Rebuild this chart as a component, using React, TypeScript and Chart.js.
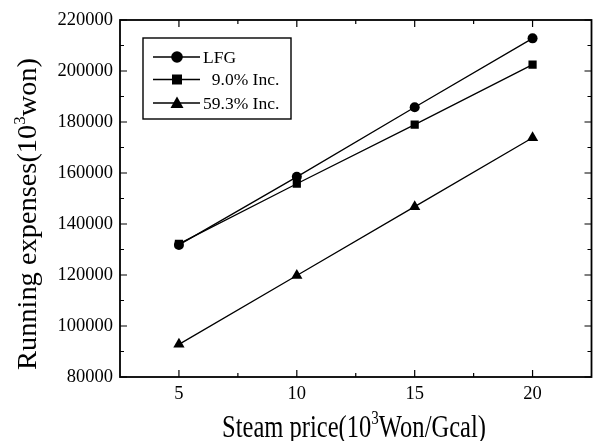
import React, { useEffect, useRef } from "react";
import { Chart, registerables } from "chart.js";

Chart.register(...registerables);

const steamPrice = [5, 10, 15, 20];
const lfg = [131800, 158500, 185800, 212800];
const inc9 = [132200, 155800, 179000, 202500];
const inc59 = [92800, 119800, 146800, 173800];

const seriesLabels = ["LFG", "  9.0% Inc.", "59.3% Inc."];
const xTickValues = [5, 10, 15, 20];
const xMinorValues = [7.5, 12.5, 17.5];
const yTickValues = [80000, 100000, 120000, 140000, 160000, 180000, 200000, 220000];
const yMinorValues = [90000, 110000, 130000, 150000, 170000, 190000, 210000];

const xTitleParts = ["Steam price(10", "3", "Won/Gcal)"];
const yTitleParts = ["Running expenses(10", "3", "won)"];

const FONT = "'Liberation Serif', 'Times New Roman', serif";

function drawSupTitle(
  ctx: CanvasRenderingContext2D,
  parts: string[],
  size: number,
  targetWidth: number
) {
  const main = `${size}px ${FONT}`;
  const sup = `${Math.round(size * 0.6)}px ${FONT}`;
  ctx.font = main;
  const w0 = ctx.measureText(parts[0]).width;
  const w2 = ctx.measureText(parts[2]).width;
  ctx.font = sup;
  const w1 = ctx.measureText(parts[1]).width;
  const total = w0 + w1 + w2;
  ctx.save();
  ctx.scale(targetWidth / total, 1);
  ctx.textAlign = "left";
  ctx.textBaseline = "alphabetic";
  let x = -total / 2;
  ctx.font = main;
  ctx.fillText(parts[0], x, 0);
  x += w0;
  ctx.font = sup;
  ctx.fillText(parts[1], x, -size * 0.42);
  x += w1;
  ctx.font = main;
  ctx.fillText(parts[2], x, 0);
  ctx.restore();
}

const framePlugin = {
  id: "frameAndDecor",
  afterDraw(chart: any) {
    const ctx = chart.ctx as CanvasRenderingContext2D;
    const area = chart.chartArea;
    const xs = chart.scales.x;
    const ys = chart.scales.y;
    ctx.save();
    ctx.strokeStyle = "#000";
    ctx.lineWidth = 1.8;
    ctx.strokeRect(area.left, area.top, area.right - area.left, area.bottom - area.top);
    ctx.lineWidth = 1.2;
    ctx.beginPath();
    const tick = (vals: number[], len: number) => {
      vals.forEach((v) => {
        const px = xs.getPixelForValue(v);
        ctx.moveTo(px, area.bottom);
        ctx.lineTo(px, area.bottom - len);
        ctx.moveTo(px, area.top);
        ctx.lineTo(px, area.top + len);
      });
    };
    const ytick = (vals: number[], len: number) => {
      vals.forEach((v) => {
        const py = ys.getPixelForValue(v);
        ctx.moveTo(area.left, py);
        ctx.lineTo(area.left + len, py);
        ctx.moveTo(area.right, py);
        ctx.lineTo(area.right - len, py);
      });
    };
    tick(xTickValues, 7);
    tick(xMinorValues, 4);
    ytick(yTickValues, 7);
    ytick(yMinorValues, 4);
    ctx.stroke();

    // axis titles
    ctx.fillStyle = "#000";
    ctx.save();
    ctx.translate(354, 437);
    drawSupTitle(ctx, xTitleParts, 31, 264);
    ctx.restore();

    ctx.save();
    ctx.translate(36, 214);
    ctx.rotate(-Math.PI / 2);
    drawSupTitle(ctx, yTitleParts, 27, 312);
    ctx.restore();

    // legend
    const bx = 143, by = 38, bw = 148, bh = 81;
    ctx.lineWidth = 1.4;
    ctx.strokeRect(bx, by, bw, bh);
    const rowsY = [57, 79.5, 103];
    const styles = ["circle", "rect", "triangle"];
    ctx.font = `17.5px ${FONT}`;
    ctx.textAlign = "left";
    ctx.textBaseline = "middle";
    rowsY.forEach((ry, i) => {
      ctx.lineWidth = 1.3;
      ctx.beginPath();
      ctx.moveTo(153, ry);
      ctx.lineTo(200, ry);
      ctx.stroke();
      ctx.fillStyle = "#000";
      ctx.beginPath();
      if (styles[i] === "circle") {
        ctx.arc(177, ry, 5.8, 0, Math.PI * 2);
      } else if (styles[i] === "rect") {
        ctx.rect(177 - 5, ry - 5, 10, 10);
      } else {
        ctx.moveTo(177, ry - 6.5);
        ctx.lineTo(177 + 6.5, ry + 5);
        ctx.lineTo(177 - 6.5, ry + 5);
        ctx.closePath();
      }
      ctx.fill();
      ctx.fillText(seriesLabels[i], 203, ry + 1);
    });
    ctx.restore();
  },
};

export default function App() {
  const ref = useRef<HTMLCanvasElement | null>(null);
  useEffect(() => {
    document.body.style.margin = "0";
    const canvas = ref.current;
    if (!canvas) return;
    const mk = (label: string, data: number[], style: string, r: number) => ({
      label,
      data: steamPrice.map((x, i) => ({ x, y: data[i] })),
      borderColor: "#000",
      backgroundColor: "#000",
      borderWidth: 1.3,
      pointStyle: style,
      pointRadius: r,
      pointBorderWidth: 0,
      pointBackgroundColor: "#000",
      showLine: true,
      fill: false,
      tension: 0,
    });
    const chart = new Chart(canvas, {
      type: "scatter",
      data: {
        datasets: [
          mk(seriesLabels[0], lfg, "circle", 5),
          mk(seriesLabels[1], inc9, "rect", 5.8),
          mk(seriesLabels[2], inc59, "triangle", 6.5),
        ],
      },
      options: {
        responsive: false,
        animation: false,
        devicePixelRatio: 1,
        layout: { padding: { top: 20, right: 6, left: 0, bottom: 0 } },
        plugins: { legend: { display: false }, tooltip: { enabled: false } },
        scales: {
          x: {
            type: "linear",
            min: 2.5,
            max: 22.5,
            afterBuildTicks: (s: any) => {
              s.ticks = xTickValues.map((v) => ({ value: v }));
            },
            afterFit: (s: any) => {
              s.height = 64;
            },
            grid: { display: false, drawTicks: false },
            border: { display: false },
            ticks: {
              color: "#000",
              font: { family: FONT, size: 18.5 },
              padding: 6,
              maxRotation: 0,
              autoSkip: false,
            },
          },
          y: {
            type: "linear",
            min: 80000,
            max: 220000,
            afterBuildTicks: (s: any) => {
              s.ticks = yTickValues.map((v) => ({ value: v }));
            },
            afterFit: (s: any) => {
              s.width = 120;
            },
            grid: { display: false, drawTicks: false },
            border: { display: false },
            ticks: {
              color: "#000",
              font: { family: FONT, size: 18.5 },
              padding: 7,
              autoSkip: false,
              callback: (v: any) => String(v),
            },
          },
        },
      },
      plugins: [framePlugin],
    });
    return () => chart.destroy();
  }, []);
  return (
    <div style={{ position: "fixed", left: 0, top: 0, width: 598, height: 441, background: "#fff" }}>
      <canvas ref={ref} width={598} height={441} style={{ width: 598, height: 441, display: "block" }} />
    </div>
  );
}
